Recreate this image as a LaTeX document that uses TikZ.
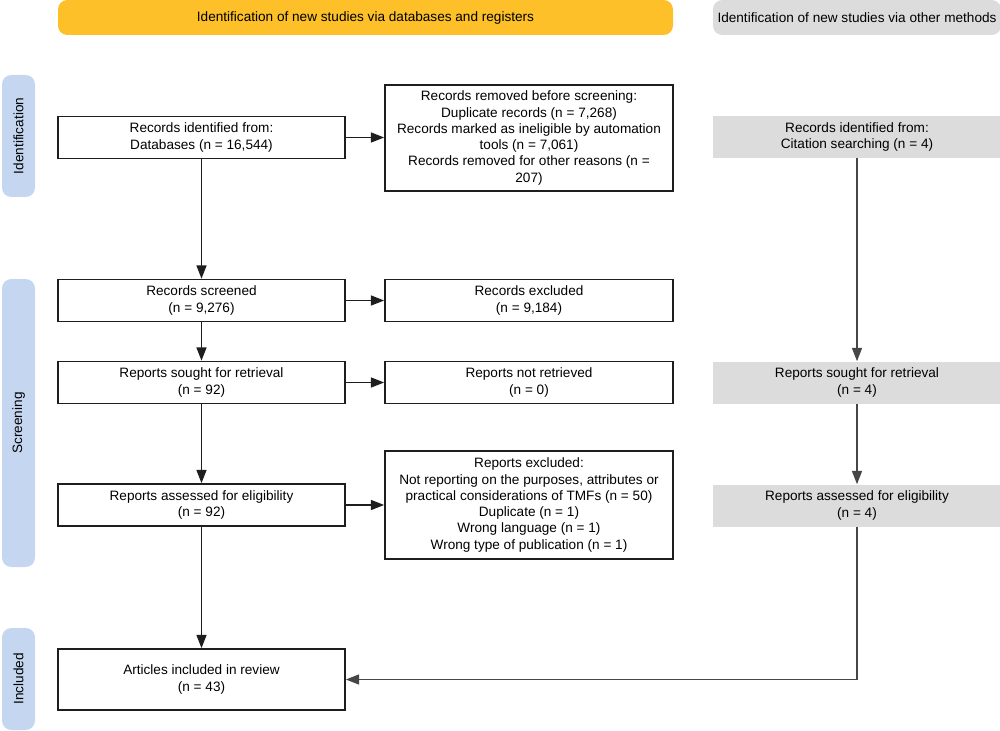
\documentclass[tikz,border=0pt]{standalone}
\usepackage{fontspec}
\setmainfont{Liberation Sans}
\usetikzlibrary{arrows.meta}
\definecolor{ylw}{RGB}{253,192,40}
\definecolor{gry}{RGB}{220,220,220}
\definecolor{blu}{RGB}{197,214,240}
\definecolor{ln}{RGB}{30,30,30}
\definecolor{gln}{RGB}{70,70,70}
\begin{document}
\begin{tikzpicture}[x=0.75pt,y=-0.75pt,
  font=\fontsize{10.2}{12.2}\selectfont,
  box/.style={draw=ln, line width=1.2pt, fill=white, align=center, inner sep=2pt, text=black},
  gbox/.style={fill=gry, align=center, inner sep=2pt, text=black},
  side/.style={fill=blu, rounded corners=7pt, rotate=90, minimum height=24.75pt, inner sep=0pt},
  arr/.style={draw=ln, line width=1.1pt, -{Triangle[length=10pt,width=7.5pt]}},
  garr/.style={draw=gln, line width=1.1pt, -{Triangle[length=10pt,width=7.5pt]}}]
\useasboundingbox (0,0) rectangle (1000,731);
\clip (0,0) rectangle (1000,731);

% banners
\node (hdrA) [fill=ylw, rounded corners=7pt, minimum width=461.25pt, minimum height=26.25pt] at (365.5,17.5) {Identification of new studies via databases and registers};
\node (hdrB) [fill=gry, rounded corners=7pt, minimum width=216pt, minimum height=26.25pt] at (857,17.5) {Identification of new studies via other methods};

% side bars
\node (sideI) [side, minimum width=91.5pt] at (18.5,136) {Identification};
\node (sideS) [side, minimum width=216pt] at (18.5,423) {Screening};
\node (sideN) [side, minimum width=76.5pt] at (18.5,679) {Included};

% left column
\node (b1) [box, minimum width=215.25pt, minimum height=31.5pt] at (201.5,137.5) {Records identified from:\\Databases (n = 16,544)};
\node (s1) [box, minimum width=215.25pt, minimum height=31.5pt] at (201.5,300.5) {Records screened\\(n = 9,276)};
\node (r1) [box, minimum width=215.25pt, minimum height=31.5pt] at (201.5,382.5) {Reports sought for retrieval\\(n = 92)};
\node (e1) [box, minimum width=215.25pt, minimum height=31.5pt] at (201.5,505) {Reports assessed for eligibility\\(n = 92)};
\node (inc) [box, minimum width=215.25pt, minimum height=45.75pt] at (201.5,679.5) {Articles included in review\\(n = 43)};

% middle column
\node (b2) [box, minimum width=216pt, minimum height=79.5pt] at (529,138) {Records removed before screening:\\Duplicate records (n = 7,268)\\Records marked as ineligible by automation\\tools (n = 7,061)\\Records removed for other reasons (n =\\207)};
\node (s1r) [box, minimum width=216pt, minimum height=31.5pt] at (529,300.5) {Records excluded\\(n = 9,184)};
\node (r1r) [box, minimum width=216pt, minimum height=31.5pt] at (529,382.5) {Reports not retrieved\\(n = 0)};
\node (e1r) [box, minimum width=216pt, minimum height=81pt] at (529,505) {Reports excluded:\\Not reporting on the purposes, attributes or\\practical considerations of TMFs (n = 50)\\Duplicate (n = 1)\\Wrong language (n = 1)\\Wrong type of publication (n = 1)};

% right column
\node (c1) [gbox, minimum width=216pt, minimum height=31.5pt] at (857,137) {Records identified from:\\Citation searching (n = 4)};
\node (c2) [gbox, minimum width=216pt, minimum height=31.5pt] at (857,382.5) {Reports sought for retrieval\\(n = 4)};
\node (c3) [gbox, minimum width=216pt, minimum height=31.5pt] at (857,505.5) {Reports assessed for eligibility\\(n = 4)};

% connectors
\draw[arr] (b1.east) -- (b1.east -| b2.west);
\draw[arr] (b1) -- (s1);
\draw[arr] (s1) -- (s1r);
\draw[arr] (s1) -- (r1);
\draw[arr] (r1) -- (r1r);
\draw[arr] (r1) -- (e1);
\draw[arr] (e1) -- (e1r);
\draw[arr] (e1) -- (inc);
\draw[garr] (c1) -- (c2);
\draw[garr] (c2) -- (c3);
\draw[garr] (c3.south) |- (inc.east);
\end{tikzpicture}
\end{document}
